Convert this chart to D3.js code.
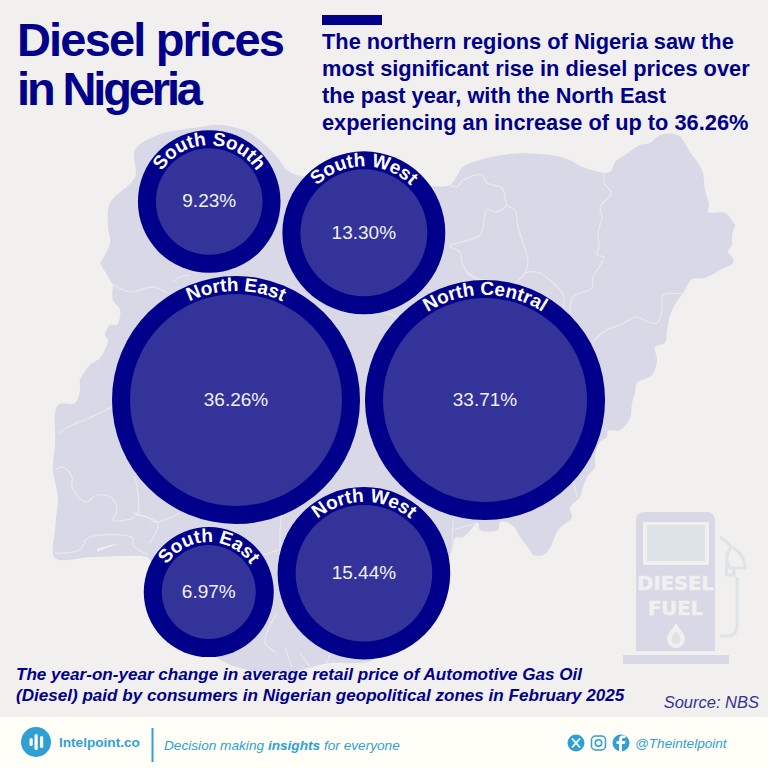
<!DOCTYPE html>
<html><head><meta charset="utf-8">
<script src="https://cdn.jsdelivr.net/npm/d3@7"></script>
<style>html,body{margin:0;padding:0;background:#f1f0ee}svg{display:block}text{font-family:"Liberation Sans",Arial,sans-serif}</style>
</head><body><svg id="c" width="768" height="768"></svg>
<script>
// ---- data ----
const regions = ["North East","North Central","North West","South West","South South","South East"];
const changes = [36.26,33.71,15.44,13.30,9.23,6.97];
const titleLines = ["Diesel prices","in Nigeria"];
const takeawayLines = ["The northern regions of Nigeria saw the","most significant rise in diesel prices over","the past year, with the North East","experiencing an increase of up to 36.26%"];
const captionLines = ["The year-on-year change in average retail price of Automotive Gas Oil","(Diesel) paid by consumers in Nigerian geopolitical zones in February 2025"];

// ---- palette ----
const BG="#f1f0ee",MAP="#d9d8e6",NAVY="#00008b",INNER="#333399",FOOT="#fffff8",SKY="#2f9fd4",PALE="#dde3e6";

// ---- decorative backdrop outline (illustration, not data) ----
const mapOutline=[[100,263],[110,243],[108,227],[110,203],[135,177],[135,150],[158,135],[200,127],[220,125],[250,133],[277,157],[285,168],[297,175],[430,186],[450,185],[463,167],[480,160],[510,154],[540,154],[565,158],[585,168],[610,172],[615,162],[625,155],[640,145],[650,143],[660,135],[678,135],[690,152],[702,170],[705,190],[709,205],[708,212],[725,213],[733,222],[735,225],[732,235],[732,245],[728,252],[733,258],[733,263],[720,270],[705,278],[692,279],[685,290],[672,310],[667,330],[665,343],[655,347],[657,360],[652,375],[637,383],[635,393],[632,403],[630,418],[620,430],[608,431],[607,437],[600,442],[595,455],[595,467],[587,477],[583,487],[580,497],[570,508],[572,517],[558,530],[550,548],[543,555],[533,555],[530,550],[520,537],[515,528],[507,522],[500,522],[498,530],[480,530],[478,523],[463,537],[455,538],[452,550],[420,610],[373,660],[357,663],[330,663],[283,673],[240,668],[217,657],[180,600],[150,560],[147,557],[93,557],[55,558],[55,530],[57,510],[58,497],[53,470],[55,445],[58,405],[75,403],[80,390],[80,380],[90,365],[100,358],[108,340],[105,335],[110,325],[117,325],[120,310],[113,300],[113,285]];
const mapBorders=[
[[604,172],[604,183],[611,193],[600,207],[602,217],[598,233],[599,247],[597,255],[604,257],[593,277],[592,288],[573,297],[570,313]],
[[450,185],[457,187],[463,180],[482,175],[487,183],[502,188],[507,205],[515,210],[518,227],[528,262],[525,273],[515,283]],
[[507,205],[497,212],[487,210],[480,235],[450,246],[460,252],[462,263],[472,277],[487,280]],
[[525,273],[537,272],[550,280],[563,295],[563,310]],
[[683,294],[663,295],[662,310],[657,323],[648,322],[637,317],[620,325],[603,332],[593,343]],
[[112,407],[85,420],[72,425],[58,433]],
[[55,470],[63,467],[72,477],[72,487],[85,502],[97,495],[112,498],[117,510],[113,520],[137,515],[135,477]],
[[137,515],[158,523],[150,543]],
[[55,553],[80,550],[88,538],[133,538],[133,545],[148,555]],
[[110,283],[130,292],[153,287],[167,293]],
[[173,282],[180,277],[190,275]],
[[133,513],[147,517],[155,522],[180,513]],
[[280,527],[282,513]],[[280,527],[280,560]],[[263,555],[278,550]],
[[277,613],[268,630],[265,643],[277,653]],
[[285,648],[292,667]],[[300,653],[310,667]],[[330,655],[327,663]],
[[453,520],[452,550]],[[453,530],[477,523]],[[573,480],[577,497]],
[[383,312],[397,317]],[[467,272],[477,278]]
];

const svg=d3.select("#c");
svg.append("rect").attr("width",768).attr("height",768).attr("fill",BG);

const lineGen=d3.line().curve(d3.curveCatmullRom.alpha(.5));
const mapG=svg.append("g");
mapG.append("path").attr("d",lineGen(mapOutline)+"Z").attr("fill",MAP);
mapG.selectAll("path.b").data(mapBorders).join("path").attr("class","b").attr("d",d=>lineGen(d)).attr("fill","none").attr("stroke",BG).attr("stroke-opacity",.7).attr("stroke-width",1.2);
mapG.append("path").attr("d",lineGen([[97,549],[108,545.5],[119,544],[108,547.5],[97,552]])+"Z").attr("fill",BG);

// ---- fuel pump illustration ----
const pump=svg.append("g");
pump.append("path").attr("d","M636 651V520a8 8 0 0 1 8-8h63a8 8 0 0 1 8 8V651Z").attr("fill",MAP);
pump.append("rect").attr("x",623).attr("y",655).attr("width",106).attr("height",9).attr("fill",MAP);
pump.append("rect").attr("x",643).attr("y",522).attr("width",66).attr("height",43).attr("rx",1.5).attr("fill",BG);
pump.append("rect").attr("x",647).attr("y",525).attr("width",58).attr("height",36).attr("fill",PALE);
pump.selectAll("text").data(["DIESEL","FUEL"]).join("text").attr("x",675.5).attr("y",(d,i)=>590+i*25).attr("text-anchor","middle")
  .style("font-family","'DejaVu Sans'").style("font-weight",700).attr("font-size",19.5).attr("fill",BG).attr("stroke",BG).attr("stroke-width",.6).attr("stroke-linejoin","round").text(d=>d);
pump.append("path").attr("d","M676 623C671 631 667 634 667 639a9 9 0 0 0 18 0C685 634 681 631 676 623Z").attr("fill",BG);
pump.append("path").attr("d","M676 631C673 635 671.500 637 671.500 639.500a4.500 4.500 0 0 0 9 0C680.500 637 679 635 676 631Z").attr("fill",PALE);
pump.append("path").attr("d","M720 636H727Q737 636 737 625V577M720 537Q727 541 731 547").attr("fill","none").attr("stroke",PALE).attr("stroke-width",3);
pump.append("path").attr("d","M731 547Q744 552 745 568H730L727 562Q726 553 731 547Z").attr("fill","none").attr("stroke",PALE).attr("stroke-width",3);
pump.append("path").attr("d","M727 562L726 575H734L734 568").attr("fill","none").attr("stroke",PALE).attr("stroke-width",3);

// ---- headline text ----
const titleWidths=[268,186];
svg.append("g").selectAll("text").data(titleLines).join("text").attr("x",17).attr("y",(d,i)=>56+i*48.5)
  .attr("font-size",47).attr("font-weight",700).attr("textLength",(d,i)=>titleWidths[i]).attr("lengthAdjust","spacing").attr("fill",NAVY).text(d=>d);
svg.append("rect").attr("x",322).attr("y",15).attr("width",60).attr("height",10).attr("fill",NAVY);
svg.append("g").selectAll("text").data(takeawayLines).join("text").attr("x",322).attr("y",(d,i)=>49+i*27)
  .attr("font-size",21.8).attr("font-weight",700).attr("fill",NAVY).text(d=>d);

// ---- bubbles: area grows linearly with the value; placement comes from circle packing ----
const areaScale=d3.scaleLinear().domain(d3.extent(changes)).range([65*65,124*124]);
const radius=v=>Math.sqrt(areaScale(v));
const ringWidth=18, packGap=2.5;
const nodes=regions.map((name,i)=>({name,value:changes[i],r:radius(changes[i])+packGap}));
d3.packSiblings(nodes);
const originX=236-nodes[0].x, originY=400-nodes[0].y;
const bubbles=svg.append("g").selectAll("g").data(nodes).join("g").attr("transform",d=>`translate(${d.x+originX},${d.y+originY})`);
bubbles.append("circle").attr("r",d=>d.r-packGap).attr("fill",NAVY);
bubbles.append("circle").attr("r",d=>d.r-packGap-ringWidth).attr("fill",INNER);
bubbles.append("path").attr("id",(d,i)=>"arc"+i).attr("fill","none").attr("d",d=>{const R=d.r-packGap-ringWidth+3;return `M0 ${R}A${R} ${R} 0 0 1 0 ${-R}A${R} ${R} 0 0 1 0 ${R}`});
bubbles.append("text").attr("font-size",19).attr("font-weight",700).attr("fill","#fff").attr("text-anchor","middle")
  .append("textPath").attr("href",(d,i)=>"#arc"+i).attr("startOffset","50%").text(d=>d.name);
bubbles.append("text").attr("y",6).attr("text-anchor","middle").attr("font-size",19).attr("fill","#f0f0fa").text(d=>d3.format(".2f")(d.value)+"%");

// ---- caption & source ----
svg.append("g").selectAll("text").data(captionLines).join("text").attr("x",16).attr("y",(d,i)=>680+i*21)
  .attr("font-size",17.08).attr("font-weight",700).attr("font-style","italic").attr("fill",NAVY).text(d=>d);
svg.append("text").attr("x",759).attr("y",708).attr("text-anchor","end").attr("font-size",16.500).attr("font-style","italic").attr("fill",INNER).text("Source: NBS");

// ---- footer ----
const f=svg.append("g");
f.append("rect").attr("y",717).attr("width",768).attr("height",51).attr("fill",FOOT);
f.append("circle").attr("cx",36).attr("cy",742).attr("r",15).attr("fill",SKY);
[[29.500,738,8],[34.500,734,16],[40,736,12]].forEach(b=>f.append("rect").attr("x",b[0]).attr("y",b[1]).attr("width",3.200).attr("height",b[2]).attr("rx",1.5).attr("fill","#fff"));
f.append("text").attr("x",59).attr("y",747).attr("font-size",13.6).attr("font-weight",700).attr("fill",SKY).text("Intelpoint.co");
f.append("rect").attr("x",151.500).attr("y",728).attr("width",2).attr("height",34).attr("fill",SKY);
const tag=f.append("text").attr("x",164).attr("y",750).attr("font-size",13.65).attr("font-style","italic").attr("fill",SKY);
tag.append("tspan").text("Decision making ");
tag.append("tspan").attr("font-weight",700).text("insights");
tag.append("tspan").text(" for everyone");
f.append("circle").attr("cx",576).attr("cy",743).attr("r",8.500).attr("fill",SKY);
f.append("path").attr("d","M572 738.500L580 747.500M580 738.500L572 747.500").attr("stroke","#fff").attr("stroke-width",1.8);
f.append("rect").attr("x",591.500).attr("y",736).attr("width",14).attr("height",14).attr("rx",4).attr("fill","none").attr("stroke",SKY).attr("stroke-width",1.500);
f.append("circle").attr("cx",598.500).attr("cy",743).attr("r",3.200).attr("fill","none").attr("stroke",SKY).attr("stroke-width",1.500);
f.append("circle").attr("cx",621).attr("cy",743).attr("r",8.500).attr("fill",SKY);
f.append("path").attr("d","M622 751.500V744H625L625.500 741H622V739.500Q622 738 623.500 738H625.500V735.500H623Q619 735.500 619 739.500V741H616.500V744H619V751.500Z").attr("fill","#fff");
f.append("text").attr("x",635).attr("y",748).attr("font-size",13.6).attr("font-style","italic").attr("fill",SKY).text("@Theintelpoint");
</script></body></html>
